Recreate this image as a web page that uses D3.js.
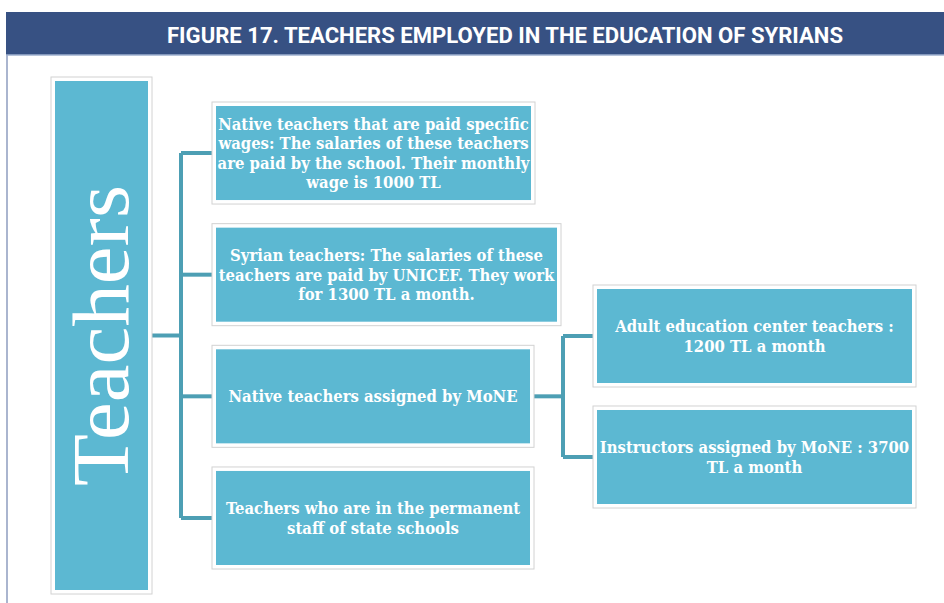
<!DOCTYPE html>
<html>
<head>
<meta charset="utf-8">
<script src="https://cdn.jsdelivr.net/npm/d3@7"></script>
<style>
  html, body { margin: 0; padding: 0; background: #fff; }
  svg { display: block; }
</style>
</head>
<body>
<div id="chart"></div>
<script>
// Teachers employed in the education of Syrians — org-style tree
const title = 'FIGURE 17. TEACHERS EMPLOYED IN THE EDUCATION OF SYRIANS';
const rootLabel = 'Teachers';

// first level: each entry is the list of wrapped lines shown in the box
const level1 = [
  ['Native teachers that are paid specific', 'wages: The salaries of these teachers', 'are paid by the school. Their monthly', 'wage is 1000 TL'],
  ['Syrian teachers: The salaries of these', 'teachers are paid by UNICEF. They work', 'for 1300 TL a month.'],
  ['Native teachers assigned by MoNE'],
  ['Teachers who are in the permanent', 'staff of state schools']
];

// second level hangs off the third first-level box
const level2Parent = 2;
const level2 = [
  ['Adult education center teachers :', '1200 TL a month'],
  ['Instructors assigned by MoNE : 3700', 'TL a month']
];

(function(){
  const width = 944, height = 603;
  const boxFill = '#5cb8d2';
  const linkColor = '#4d9fb4';

  const svg = d3.select('#chart').append('svg')
    .attr('width', width)
    .attr('height', height);

  // frame + title bar
  svg.append('line')
    .attr('x1', 7).attr('x2', 7)
    .attr('y1', 55).attr('y2', height)
    .attr('stroke', '#8e9cbf')
    .attr('stroke-width', 1.5);
  svg.append('rect')
    .attr('x', 6).attr('y', 12)
    .attr('width', width - 6).attr('height', 43)
    .attr('fill', '#375183');
  svg.append('line')
    .attr('x1', 6).attr('x2', width)
    .attr('y1', 55).attr('y2', 55)
    .attr('stroke', '#9fb0cf')
    .attr('stroke-width', 1.5);
  svg.append('text')
    .attr('x', 505).attr('y', 43)
    .attr('text-anchor', 'middle')
    .attr('fill', '#fff')
    .attr('font-family', '"Roboto", "Open Sans", sans-serif')
    .attr('font-weight', 'bold')
    .attr('font-size', 22)
    .attr('textLength', 676)
    .attr('lengthAdjust', 'spacingAndGlyphs')
    .text(title);

  // scales for the rows of each level
  const y1 = d3.scaleBand()
    .domain(d3.range(level1.length))
    .range([106, 565])
    .paddingInner(0.227);
  const y2 = d3.scaleBand()
    .domain(d3.range(level2.length))
    .range([289, 504])
    .paddingInner(0.223);

  const root = {x: 55, y: 81, w: 93, h: 509};
  const col1 = {x: 216, w: [315, 341, 314, 314]};
  const col2 = {x: 597, w: 315};
  const trunk1 = 181, trunk2 = 563;

  const links = svg.append('g')
    .attr('fill', 'none')
    .attr('stroke', linkColor)
    .attr('stroke-width', 4);

  // root -> trunk
  const rootMid = root.y + root.h / 2;
  const mid1 = i => y1(i) + y1.bandwidth() / 2;
  const mid2 = i => y2(i) + y2.bandwidth() / 2;

  links.append('path')
    .attr('d', `M${root.x + root.w + 3},${rootMid}H${trunk1}`);
  links.append('path')
    .attr('d', `M${trunk1},${mid1(0)}V${mid1(level1.length - 1)}`);
  links.selectAll('path.b1')
    .data(level1)
    .join('path')
    .attr('class', 'b1')
    .attr('d', (d, i) => `M${trunk1},${mid1(i)}H${col1.x - 3}`);

  const pMid = mid1(level2Parent);
  links.append('path')
    .attr('d', `M${col1.x + col1.w[level2Parent] + 3},${pMid}H${trunk2}`);
  links.append('path')
    .attr('d', `M${trunk2},${mid2(0)}V${mid2(level2.length - 1)}`);
  links.selectAll('path.b2')
    .data(level2)
    .join('path')
    .attr('class', 'b2')
    .attr('d', (d, i) => `M${trunk2},${mid2(i)}H${col2.x - 3}`);

  function box(g, x, y, w, h){
    g.append('rect')
      .attr('x', x - 4).attr('y', y - 4)
      .attr('width', w + 8).attr('height', h + 8)
      .attr('fill', '#fff')
      .attr('stroke', '#d2d2d2')
      .attr('stroke-width', 1);
    g.append('rect')
      .attr('x', x).attr('y', y)
      .attr('width', w).attr('height', h)
      .attr('fill', boxFill);
  }

  function label(g, lines, cx, cy){
    const lh = 19.5;
    const t = g.append('text')
      .attr('text-anchor', 'middle')
      .attr('fill', '#fff')
      .attr('font-family', '"DejaVu Serif Condensed", "DejaVu Serif", serif')
      .attr('font-stretch', 'condensed')
      .attr('font-weight', 'bold')
      .attr('font-size', 16.5);
    lines.forEach((l, i) => {
      t.append('tspan')
        .attr('x', cx)
        .attr('y', cy + (i - (lines.length - 1) / 2) * lh + 6)
        .text(l);
    });
  }

  // root box with vertical label
  const rg = svg.append('g');
  box(rg, root.x, root.y, root.w, root.h);
  rg.append('text')
    .attr('transform', `translate(${root.x + 73},${rootMid}) rotate(-90)`)
    .attr('text-anchor', 'middle')
    .attr('fill', '#fff')
    .attr('font-family', '"Liberation Serif", "DejaVu Serif", serif')
    .attr('font-size', 80)
    .attr('textLength', 301)
    .attr('lengthAdjust', 'spacingAndGlyphs')
    .text(rootLabel);

  level1.forEach((lines, i) => {
    const g = svg.append('g');
    box(g, col1.x, y1(i), col1.w[i], y1.bandwidth());
    label(g, lines, col1.x + col1.w[i] / 2, mid1(i));
  });

  level2.forEach((lines, i) => {
    const g = svg.append('g');
    box(g, col2.x, y2(i), col2.w, y2.bandwidth());
    label(g, lines, col2.x + col2.w / 2, mid2(i));
  });
})();
</script>
</body>
</html>
